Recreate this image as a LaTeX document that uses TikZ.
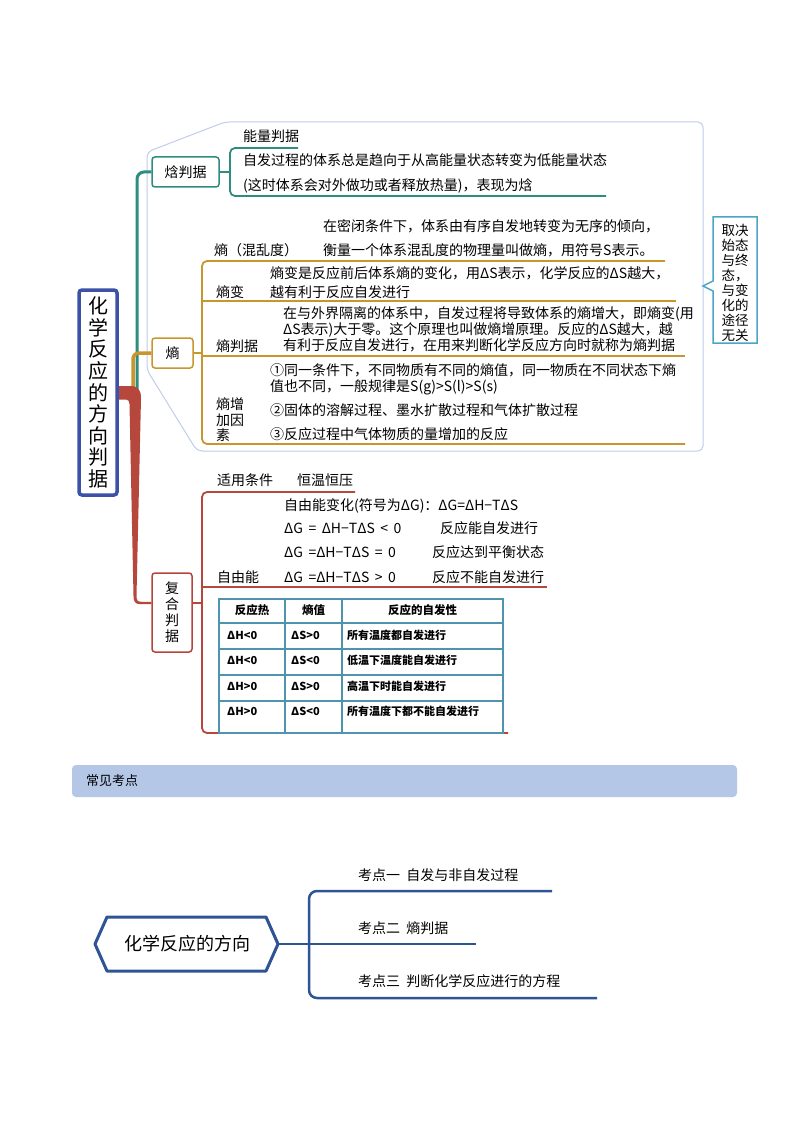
\documentclass[tikz,border=0pt]{standalone}
\usepackage{fontspec}
\setmainfont{Noto Sans CJK SC}
\usetikzlibrary{calc}
\definecolor{cTeal}{HTML}{2E8C80}
\definecolor{cGold}{HTML}{C8962E}
\definecolor{cRed}{HTML}{B5473C}
\definecolor{cBlue}{HTML}{3D52A6}
\definecolor{cPanel}{HTML}{C3CCEB}
\definecolor{cCall}{HTML}{4DA3C8}
\definecolor{cTbl}{HTML}{4F94AE}
\definecolor{cDark}{HTML}{2F5496}
\definecolor{cBan}{HTML}{B4C7E7}
\newcommand{\gp}{\hspace{5.5pt}}
\begin{document}
\begin{tikzpicture}[x=1pt,y=-1pt,
  t14/.style={anchor=west,inner sep=0pt,font=\fontsize{14}{16}\selectfont,text height=12.3pt,text depth=1.7pt},
  t13/.style={anchor=west,inner sep=0pt,font=\fontsize{13}{15}\selectfont,text height=11.4pt,text depth=1.6pt},
  tb/.style={anchor=west,inner sep=0pt,font=\fontsize{11}{13}\selectfont\bfseries,text height=9.7pt,text depth=1.3pt},
  th/.style={anchor=center,inner sep=0pt,font=\fontsize{11.5}{13}\selectfont\bfseries,text height=10.1pt,text depth=1.4pt},
  boxn/.style={rounded corners=3pt,fill=white,inner sep=0pt,align=center,font=\fontsize{14}{16}\selectfont},
  brk/.style={line width=1.8pt,rounded corners=5pt},
  tline/.style={cTbl,line width=1.4pt}
]
\useasboundingbox (0,0) rectangle (794,1123);
\fill[white] (0,0) rectangle (794,1123);

% ---------- outer light panel ----------
\draw[cPanel,line width=1pt,rounded corners=5pt] (147,152) -- (225,122) -- (703,122) -- (703,451) -- (197,451) -- (147,370) -- cycle;

% ---------- right callout ----------
\draw[cCall,line width=1.5pt] (713,217) -- (757,217) -- (757,343) -- (713,343) -- (713,291) -- (703,286) -- (713,281) -- cycle;
\node[inner sep=0pt,align=center,font=\fontsize{13.5}{15}\selectfont] (call) at (735,283) {取决\\始态\\与终\\态，\\与变\\化的\\途径\\无关};

% ---------- boxes ----------
\node[boxn,draw=cTeal,line width=1.5pt,minimum width=67pt,minimum height=30pt] (hb) at (185.5,172) {焓判据};
\node[boxn,draw=cGold,line width=1.5pt,minimum width=41pt,minimum height=30pt] (sb) at (172.5,353) {熵};
\node[boxn,draw=cRed,line width=1.5pt,minimum width=40pt,minimum height=79pt,font=\fontsize{14}{16}\selectfont] (fb) at (172,612.5) {复\\合\\判\\据};

% ---------- main branches ----------
\draw[cTeal,line width=3pt,rounded corners=7pt] (137,392) -- (137,172) -- (hb.west);
\draw[cGold,line width=3.5pt,rounded corners=6pt] (133,394) -- (133,353) -- (sb.west);
\fill[cRed] (118,386) -- (130,386) .. controls (138,386) and (141,390) .. (141,398)
  -- (136.5,596) .. controls (136.5,601) and (138,601.8) .. (142,601.8) -- ([yshift=10.7pt]fb.west)
  -- ([yshift=8.3pt]fb.west) -- (140,604.2) .. controls (135,604.2) and (133.5,601) .. (133.5,596)
  -- (129.5,404) .. controls (129.5,401) and (128,399.5) .. (126,399.5) -- (118,399.5) -- cycle;

\node[draw=cBlue,line width=3.5pt,rounded corners=3pt,fill=white,minimum width=38pt,minimum height=205pt,inner sep=0pt,align=center,font=\fontsize{20}{21.6}\selectfont] (main) at (98,392.5) {化\\学\\反\\应\\的\\方\\向\\判\\据};

% ---------- enthalpy bracket ----------
\coordinate (hj) at (230,172);
\draw[cTeal,brk] (hb.east) -- (hj);
\draw[cTeal,brk] (298,148) -- (230,148) -- (230,196) -- (606,196);
\node[t14] (e1) at (243,136) {能量判据};
\node[t14] (e2) at (243,160) {自发过程的体系总是趋向于从高能量状态转变为低能量状态};
\node[t14] (e3) at (243,185) {(这时体系会对外做功或者释放热量)，表现为焓};

% ---------- entropy bracket ----------
\coordinate (sj) at (202,353);
\draw[cGold,brk] (sb.east) -- (sj);
\draw[cGold,brk] (665,261) -- (202,261) -- (202,444) -- (685,444);
\draw[cGold,line width=1.8pt] (202,301) -- (676,301);
\draw[cGold,line width=1.8pt] (202,356) -- (685,356);

\node[t14] (s0) at (214,250) {熵（混乱度）};
\node[t14] (s1) at (323,226) {在密闭条件下，体系由有序自发地转变为无序的倾向，};
\node[t14] (s2) at (323,250) {衡量一个体系混乱度的物理量叫做熵，用符号S表示。};
\node[t14] (s3) at (216,292) {熵变};
\node[t14] (s4) at (270,273) {熵变是反应前后体系熵的变化，用ΔS表示，化学反应的ΔS越大，};
\node[t14] (s5) at (270,292) {越有利于反应自发进行};
\node[t14] (s6) at (216,346) {熵判据};
\node[t14] (s7) at (283,313) {在与外界隔离的体系中，自发过程将导致体系的熵增大，即熵变(用};
\node[t14] (s8) at (283,329) {ΔS表示)大于零。这个原理也叫做熵增原理。反应的ΔS越大，越};
\node[t14] (s9) at (283,345) {有利于反应自发进行，在用来判断化学反应方向时就称为熵判据};
\node[t14] (s10) at (216,404) {熵增};
\node[t14] (s11) at (216,420) {加因};
\node[t14] (s12) at (216,435) {素};
\node[t14] (s13) at (270,370) {①同一条件下，不同物质有不同的熵值，同一物质在不同状态下熵};
\node[t14] (s14) at (270,386) {值也不同，一般规律是S(g)>S(l)>S(s)};
\node[t14] (s15) at (270,410) {②固体的溶解过程、墨水扩散过程和气体扩散过程};
\node[t14] (s16) at (270,434) {③反应过程中气体物质的量增加的反应};

% ---------- composite bracket ----------
\coordinate (fj) at (202,603);
\draw[cRed,brk] ([yshift=9.5pt]fb.east) -- (fj);
\draw[cRed,brk] (355,492) -- (202,492) -- (202,733) -- (508,733);
\draw[cRed,line width=1.8pt] (202,587) -- (547,587);

\node[t14] (g1) at (217,480) {适用条件};
\node[t14] (g2) at (297,480) {恒温恒压};
\node[t14] (g3) at (284,505) {自由能变化(符号为ΔG)：ΔG=ΔH−TΔS};
\node[t14] (g4) at (284,528) {ΔG\gp=\gp ΔH−TΔS\gp<\gp 0};
\node[t14] (g5) at (440,528) {反应能自发进行};
\node[t14] (g6) at (284,552) {ΔG\gp=ΔH−TΔS\gp=\gp 0};
\node[t14] (g7) at (432,552) {反应达到平衡状态};
\node[t14] (g8) at (217,577) {自由能};
\node[t14] (g9) at (284,577) {ΔG\gp=ΔH−TΔS\gp>\gp 0};
\node[t14] (g10) at (432,577) {反应不能自发进行};

% ---------- table ----------
\draw[tline] (219,599) rectangle (503,733);
\draw[tline] (285,599) -- (285,733);
\draw[tline] (342,599) -- (342,733);
\draw[tline] (219,623) -- (503,623);
\draw[tline] (219,649) -- (503,649);
\draw[tline] (219,675) -- (503,675);
\draw[tline] (219,701) -- (503,701);
\node[th] (h1) at (252,610) {反应热};
\node[th] (h2) at (313.5,610) {熵值};
\node[th] (h3) at (422.5,610) {反应的自发性};
\node[tb] (r11) at (227,635) {ΔH<0};
\node[tb] (r12) at (291,635) {ΔS>0};
\node[tb] (r13) at (347,635) {所有温度都自发进行};
\node[tb] (r21) at (227,660) {ΔH<0};
\node[tb] (r22) at (291,660) {ΔS<0};
\node[tb] (r23) at (347,660) {低温下温度能自发进行};
\node[tb] (r31) at (227,686) {ΔH>0};
\node[tb] (r32) at (291,686) {ΔS>0};
\node[tb] (r33) at (347,686) {高温下时能自发进行};
\node[tb] (r41) at (227,711) {ΔH>0};
\node[tb] (r42) at (291,711) {ΔS<0};
\node[tb] (r43) at (347,711) {所有温度下都不能自发进行};

% ---------- banner ----------
\fill[cBan,rounded corners=4pt] (72,765) rectangle (737,797);
\node[t13] (ban) at (86,781) {常见考点};

% ---------- bottom map ----------
\draw[cDark,line width=3pt,line join=round] (95,944) -- (107,917) -- (266,917) -- (278,944) -- (266,971) -- (107,971) -- cycle;
\node[inner sep=0pt,font=\fontsize{18}{20}\selectfont] (hex) at (187,944) {化学反应的方向};
\coordinate (hexR) at (278,944);
\coordinate (bj) at (309,944);
\draw[cDark,line width=2.5pt] (hexR) -- (bj);
\draw[cDark,line width=2.5pt,rounded corners=8pt] (552,891) -- (309,891) -- (309,998) -- (597,998);
\draw[cDark,line width=2.5pt] (bj) -- (476,944);
\node[t14] (k1) at (358,875) {考点一\ \ 自发与非自发过程};
\node[t14] (k2) at (358,928) {考点二\ \ 熵判据};
\node[t14] (k3) at (358,981) {考点三\ \ 判断化学反应进行的方程};
\end{tikzpicture}
\end{document}
